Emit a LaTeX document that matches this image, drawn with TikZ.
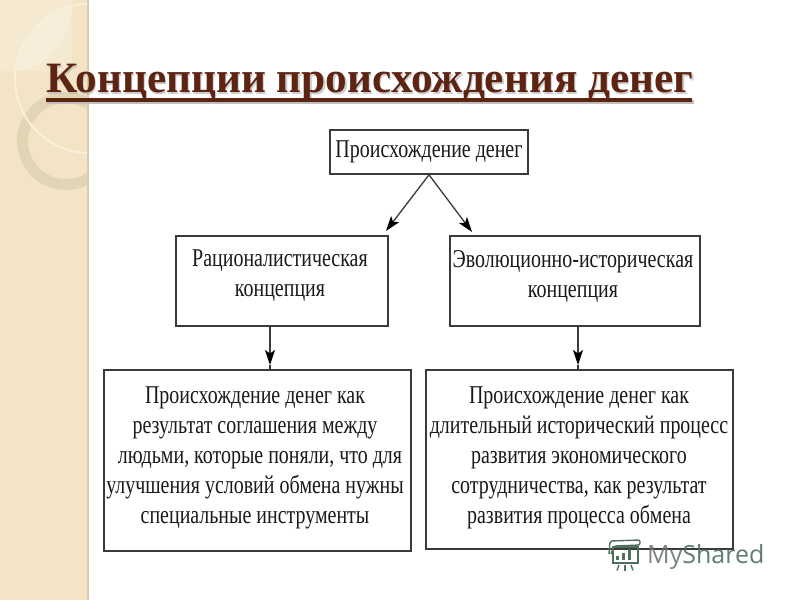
\documentclass[tikz,border=0pt]{standalone}
\usepackage{fontspec}
\setmainfont{Liberation Serif}
\newfontfamily\wmfont{Open Sans}
\usetikzlibrary{arrows.meta}
\definecolor{band}{HTML}{F2E2BF}
\definecolor{bandedge}{HTML}{D9CDB0}
\definecolor{titlec}{HTML}{5E2412}
\definecolor{boxc}{HTML}{3A3A3A}
\definecolor{ringc}{HTML}{E0D4B5}
\definecolor{linec}{HTML}{F8F0DA}
\definecolor{pale}{HTML}{F4E8CD}
\definecolor{paler}{HTML}{F6ECD6}
\definecolor{wmgreen}{HTML}{4F6F5F}
\definecolor{wmgrey}{HTML}{6E7676}
\tikzset{
  box/.style={draw=boxc,line width=1.6pt,fill=white,inner sep=0pt},
  stem/.style={draw=boxc,line width=1.3pt},
  conn/.style={stem,-{Stealth[length=15pt,width=10pt,inset=3.5pt,color=black]}},
  txt/.style={align=center,font=\fontsize{21}{30}\selectfont,text=black!90,inner sep=0pt},
  ttl/.style={font=\bfseries\fontsize{43.3}{46}\selectfont,inner sep=0pt,anchor=base west}
}
\newcommand{\sq}[1]{\scalebox{0.95}[1.22]{#1}}
\begin{document}
\begin{tikzpicture}[x=1pt,y=-1pt]
\useasboundingbox (0,0) rectangle (800,600);
\fill[white] (0,0) rectangle (800,600);
% decorative band
\fill[band] (0,0) rectangle (88,600);
\begin{scope}
\clip (0,0) rectangle (88,600);
\fill[pale] (0,0) rectangle (72,71);
\fill[paler] (72,6) .. controls (40,12) and (20,40) .. (16,71) .. controls (50,68) and (70,40) .. (72,6) -- cycle;
\foreach \i in {0,4,...,680} {\draw[white,opacity=.14,line width=.8pt] (\i,0) -- (\i-690,690);}
\foreach \i in {-600,-596,...,88} {\draw[white,opacity=.14,line width=.8pt] (\i,0) -- (\i+690,690);}
\draw[ringc,opacity=.9,line width=11pt] (66,141) circle (43.5);
\draw[linec,line width=2pt] (89.5,78.5) circle (74.5);
\end{scope}
\fill[bandedge] (87,0) rectangle (89,600);
% title
\node[ttl,text=gray!55,opacity=.7] at (47.5,94) {Концепции происхождения денег};
\node[ttl,text=titlec] (title) at (46,92.5) {Концепции происхождения денег};
\fill[gray!50] (47,100) rectangle (694,103.5);
\fill[titlec] (46,98) rectangle (692,101.5);
% boxes
\node[box,minimum width=198pt,minimum height=44pt] (top) at (429,152) {};
\node[txt] at (429,152) {\sq{Происхождение денег}};
\node[box,minimum width=212pt,minimum height=90pt] (ml) at (282,281) {};
\node[txt] at (280,276) {\sq{Рационалистическая}\\[0pt]\sq{концепция}};
\node[box,minimum width=250pt,minimum height=90pt] (mr) at (575,281) {};
\node[txt] at (573,276) {\sq{Эволюционно-историческая}\\[0pt]\sq{концепция}};
\node[box,minimum width=307pt,minimum height=181pt] (bl) at (257.5,460.5) {};
\node[txt] at (255,458) {\sq{Происхождение денег как}\\\sq{результат соглашения между}\\\sq{\ \ людьми, которые поняли, что для}\\\sq{улучшения условий обмена нужны}\\\sq{специальные инструменты}};
\node[box,minimum width=307pt,minimum height=179pt] (br) at (579.5,459.5) {};
\node[txt] at (579,458) {\sq{Происхождение денег как}\\\sq{длительный исторический процесс}\\\sq{развития экономического}\\\sq{сотрудничества, как результат}\\\sq{развития процесса обмена}};
% connectors
\coordinate (a1) at (386,231);
\coordinate (a2) at (472,232);
\coordinate (t1) at (270,365);
\coordinate (t2) at (578,365);
\draw[conn] (top.south) -- (a1);
\draw[conn] (top.south) -- (a2);
\draw[conn] (ml.south -| t1) -- (t1);
\draw[stem] (t1) -- (bl.north -| t1);
\draw[conn] (mr.south -| t2) -- (t2);
\draw[stem] (t2) -- (br.north -| t2);
% watermark
\node[font=\wmfont\fontsize{25}{25}\selectfont,text=wmgrey,opacity=.9,inner sep=0pt,anchor=base west] (wm) at (647,563) {My\textcolor{wmgreen}{Shared}};
\begin{scope}[wmgreen,line width=1.4pt]
\draw (613,547) rectangle (638,563);
\draw[rounded corners=2pt] (609,554) -- (610,541) -- (640,540) -- (640,545) -- (614,546) -- (611,554);
\fill (616,556) rectangle (619,560);
\fill (622,553) rectangle (625,560);
\fill (628,549) rectangle (631,560);
\draw (619,565) -- (617,570.5);
\draw (625,565) -- (625,570.5);
\draw (631,565) -- (633,570.5);
\end{scope}
\end{tikzpicture}
\end{document}
